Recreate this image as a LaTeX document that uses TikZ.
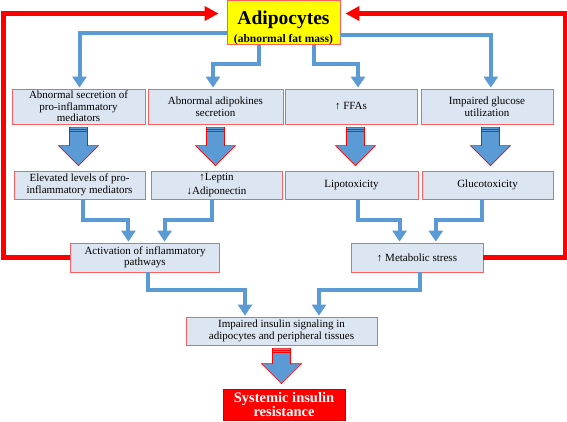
\documentclass[tikz,border=0pt]{standalone}
\usepackage{fontspec}
\setmainfont{Liberation Serif}
\usetikzlibrary{arrows.meta,calc}
\definecolor{boxfill}{HTML}{DCE6F2}
\definecolor{boxline}{HTML}{FF5F5F}
\definecolor{flowblue}{HTML}{5B9BD5}
\definecolor{adiyellow}{HTML}{FFFF00}
\tikzset{
  box/.style={draw=boxline, line width=0.8pt, fill=boxfill, align=center, inner sep=1pt,
    font=\fontsize{11}{11.5}\selectfont},
  barrow/.style={draw=flowblue, line width=4pt, -{Triangle[width=14pt,length=11pt]}, shorten >=1pt},
  rarrow/.style={draw=red, line width=5pt, -{Triangle[width=14pt,length=14pt]}},
  bigfill/.style={fill=flowblue, draw=red, line width=0.6pt, line join=miter},
}
% block arrow from node #1 to node #2, shifted horizontally by #3
\newcommand\blockarr[3]{%
  \filldraw[bigfill] let \p1=($(#1.south)+(#3,3)$), \p2=($(#2.north)+(0,-5)$) in
    (\x1-9pt,\y1) -- (\x1+9pt,\y1) -- (\x1+9pt,\y2+20pt) -- (\x1+20pt,\y2+20pt) -- (\x1,\y2)
    -- (\x1-20pt,\y2+20pt) -- (\x1-9pt,\y2+20pt) -- cycle;
  \draw[red, line width=0.7pt] let \p1=($(#1.south)+(#3,3)$) in
    (\x1-9pt,\y1-2.2pt) -- (\x1+9pt,\y1-2.2pt)
    (\x1-9pt,\y1-4.4pt) -- (\x1+9pt,\y1-4.4pt);
}
\begin{document}
\begin{tikzpicture}[x=1pt,y=-1pt]
\useasboundingbox (0,0) rectangle (567,421);

\node[draw=boxline, line width=0.8pt, fill=adiyellow, align=center, minimum width=113pt, minimum height=41pt, inner sep=0pt]
  (adi) at (283.5,22.5) {{\fontsize{19.5}{20}\selectfont\bfseries\rule{0pt}{24pt}Adipocytes}\\[5pt]{\fontsize{11.5}{12}\selectfont\bfseries (abnormal fat mass)}};

\node[box, minimum width=133pt, minimum height=35pt] (b1) at (78.5,106.5) {Abnormal secretion of\\pro-inflammatory\\mediators};
\node[box, minimum width=135pt, minimum height=35pt] (b2) at (215.5,106.5) {Abnormal adipokines\\secretion};
\node[box, minimum width=132pt, minimum height=35pt] (b3) at (351,106.5) {↑ FFAs};
\node[box, minimum width=132pt, minimum height=35pt] (b4) at (487,106.5) {Impaired glucose\\utilization};

\node[box, minimum width=131pt, minimum height=28pt] (c1) at (79.5,185) {Elevated levels of pro-\\inflammatory mediators};
\node[box, minimum width=131pt, minimum height=28pt] (c2) at (216.5,185) {↑Leptin\\[3pt]↓Adiponectin};
\node[box, minimum width=133pt, minimum height=28pt] (c3) at (351.5,185) {Lipotoxicity};
\node[box, minimum width=131pt, minimum height=28pt] (c4) at (487.5,185) {Glucotoxicity};

\node[box, minimum width=149.5pt, minimum height=29pt] (act) at (145,257.5) {Activation of inflammatory\\pathways};
\node[box, minimum width=132pt, minimum height=29pt] (met) at (417,257.5) {↑ Metabolic stress};

\node[box, minimum width=191pt, minimum height=28pt] (imp) at (281.5,331) {Impaired insulin signaling in\\adipocytes and peripheral tissues};
\node[draw=red!80!black, line width=0.6pt, fill=red, text=white, align=center, minimum width=122pt, minimum height=31pt, inner sep=0pt,
  font=\fontsize{14.5}{13.5}\selectfont\bfseries] (sys) at (284,404.5) {Systemic insulin\\resistance};

% block arrows
\blockarr{b1}{c1}{0}
\blockarr{b2}{c2}{0}
\blockarr{b3}{c3}{4.5}
\blockarr{b4}{c4}{3.5}
\blockarr{imp}{sys}{0}

% blue connectors
\draw[barrow] ([yshift=-10pt]adi.west) -| ([xshift=1pt]b1.north);
\draw[barrow] ([xshift=-25pt]adi.south) -- ++(0,19) -| ([xshift=-2.5pt]b2.north);
\draw[barrow] ([xshift=30.6pt]adi.south) -- ++(0,19) -| ([xshift=7pt]b3.north);
\draw[barrow] ([yshift=-12pt]adi.east) -| ([xshift=3.8pt]b4.north);

\draw[barrow] ([xshift=3.5pt]c1.south) -- ++(0,21) -| ([xshift=-16.6pt]act.north);
\draw[barrow] ([xshift=-5pt]c2.south) -- ++(0,21) -| ([xshift=19.6pt]act.north);
\draw[barrow] ([xshift=6.5pt]c3.south) -- ++(0,21) -| ([xshift=-17.4pt]met.north);
\draw[barrow] ([xshift=-5.5pt]c4.south) -- ++(0,21) -| ([xshift=18.8pt]met.north);

\draw[barrow] ([xshift=3pt]act.south) -- ++(0,18) -| ([xshift=-36.5pt]imp.north);
\draw[barrow] ([xshift=2.5pt]met.south) -- ++(0,18) -| ([xshift=37.5pt]imp.north);

% red feedback
\draw[rarrow] (act.west) -- ++(-66.8,0) |- ([xshift=-8pt,yshift=9pt]adi.west);
\draw[rarrow] (met.east) -- ++(81.7,0) |- ([xshift=5pt,yshift=9pt]adi.east);
\end{tikzpicture}
\end{document}
